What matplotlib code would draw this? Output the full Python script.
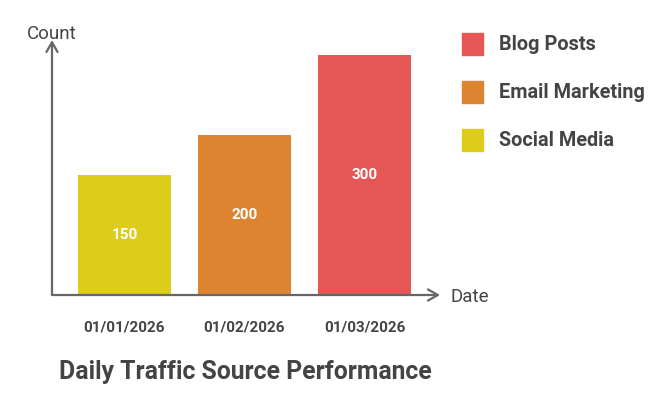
import matplotlib.pyplot as plt
from matplotlib.patches import Rectangle

plt.rcParams['font.family'] = ['Roboto', 'DejaVu Sans']

# data
dates = ["01/01/2026", "01/02/2026", "01/03/2026"]
sources = ["Social Media", "Email Marketing", "Blog Posts"]
counts = [150, 200, 300]
colors = ["#DECC1A", "#DD8431", "#E55654"]

TXT = "#444444"
AX = "#666666"

W, H = 669, 396
fig = plt.figure(figsize=(W / 100, H / 100), dpi=100)

# axes box in pixel terms
x0, x1 = 52, 440
y0, y1 = 295, 45
ax = fig.add_axes([x0 / W, 1 - y0 / H, (x1 - x0) / W, (y0 - y1) / H])
ax.set_xlim(-0.604, 2.629)
ax.set_ylim(0, 312.5)
for s in ax.spines.values():
    s.set_visible(False)
ax.set_xticks([])
ax.set_yticks([])

pos = list(range(len(counts)))
bars = ax.bar(pos, counts, width=0.775, color=colors)
for p, c in zip(pos, counts):
    ax.text(p, c / 2, str(c), ha="center", va="center", color="white",
            fontsize=11, fontweight="bold")

# axis arrows
arr = dict(arrowstyle="->,head_length=0.7,head_width=0.4", color=AX, lw=1.6,
           shrinkA=0, shrinkB=0)
ax.annotate("", xy=(0, 1.02), xytext=(0, 0), xycoords="axes fraction",
            textcoords="axes fraction", arrowprops=arr, annotation_clip=False)
ax.annotate("", xy=(1.0, 0), xytext=(0, 0), xycoords="axes fraction",
            textcoords="axes fraction", arrowprops=arr, annotation_clip=False)

fig.text(52 / W, 1 - 34 / H, "Count", ha="center", va="center", color=TXT, fontsize=13.5)
fig.text(450 / W, 1 - 297 / H, "Date", ha="left", va="center", color=TXT, fontsize=13.5)

for p, d in zip(pos, dates):
    ax.text(p, -40, d, ha="center", va="center", color=TXT, fontsize=11,
            fontweight="bold")

fig.text(245 / W, 1 - 372 / H, "Daily Traffic Source Performance", ha="center",
         va="center", color=TXT, fontsize=17.8, fontweight="bold")

# legend, top to bottom
leg_y = [44, 92, 140]
for yy, name, col in zip(leg_y, sources[::-1], colors[::-1]):
    fig.patches.append(Rectangle((462 / W, 1 - (yy + 11) / H), 21 / W, 22 / H,
                                 transform=fig.transFigure, color=col))
    fig.text(499 / W, 1 - (yy + 1) / H, name, ha="left", va="center", color=TXT,
             fontsize=14.3, fontweight="bold")

fig.savefig("out.png", dpi=100)
